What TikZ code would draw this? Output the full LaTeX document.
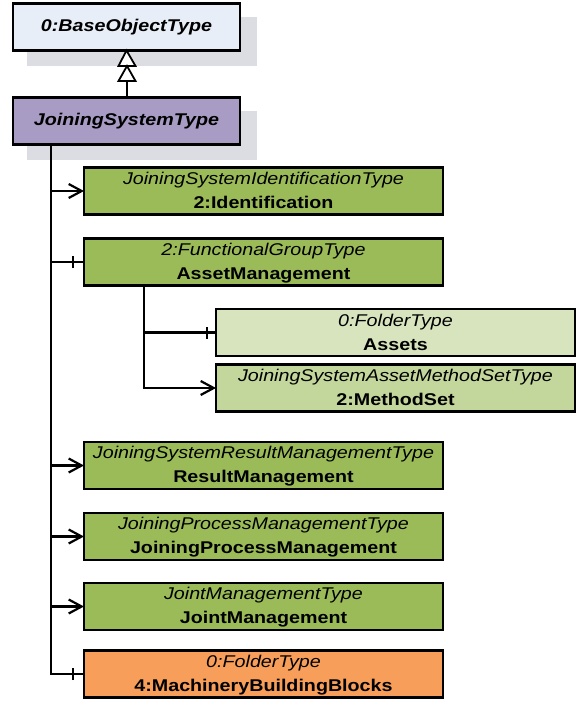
\documentclass[tikz,border=0pt]{standalone}
\usepackage{fontspec}
\setmainfont{Liberation Sans}[FakeStretch=1.158]
\usetikzlibrary{arrows.meta}
\definecolor{baseblue}{RGB}{232,238,247}
\definecolor{jstpurple}{RGB}{169,156,196}
\definecolor{olive}{RGB}{155,187,89}
\definecolor{lightolive}{RGB}{215,228,189}
\definecolor{midolive}{RGB}{195,214,155}
\definecolor{folderorange}{RGB}{246,158,90}
\definecolor{shadowgray}{RGB}{219,221,227}
\newcommand{\tl}[2]{\rule[-3pt]{0pt}{17pt}\itshape #1\\[0pt]\rule[-3pt]{0pt}{17pt}\upshape\bfseries #2}
\begin{document}
\begin{tikzpicture}[x=1pt,y=-1pt,
  every node/.style={font=\fontsize{17}{24}\selectfont, inner sep=0pt, outer sep=0pt},
  objbox/.style={draw=black, line width=2.2pt, minimum height=47pt, align=center},
  wide/.style={objbox, minimum width=359pt, text width=355pt},
  topbox/.style={objbox, minimum width=227pt, text width=223pt, font=\fontsize{17}{24}\selectfont\bfseries\itshape},
  conn/.style={line width=2.2pt},
  openarr/.style={conn, -{Straight Barb[length=13pt,width=14pt,line width=2.2pt]}},
  tickmark/.style={line width=2.2pt}
]
\useasboundingbox (0,0) rectangle (578,701);
% shadows
\fill[shadowgray] (27,17) rectangle (257,66);
\fill[shadowgray] (27,111) rectangle (257,160);
% top boxes
\node[topbox, fill=baseblue] (base) at (126.5,27) {0:BaseObjectType};
\node[topbox, fill=jstpurple] (jst) at (126.5,121) {JoiningSystemType};
% inheritance double triangle
\coordinate (t1) at (127,66);
\coordinate (t2) at (127,81);
\draw[line width=1.8pt, fill=white] (base.south) -- (118.5,66) -- (135.5,66) -- cycle;
\draw[line width=1.8pt, fill=white] (t1) -- (118.5,81) -- (135.5,81) -- cycle;
\draw[conn] (t2) -- (jst.north -| t2);
% child boxes
\node[wide, fill=olive] (id) at (263.5,191) {\tl{JoiningSystemIdentificationType}{2:Identification}};
\node[wide, fill=olive] (am) at (263.5,262) {\tl{2:FunctionalGroupType}{AssetManagement}};
\node[wide, fill=lightolive] (as) at (395.5,332.5) {\tl{0:FolderType}{Assets}};
\node[wide, fill=midolive] (ms) at (395.5,388) {\tl{JoiningSystemAssetMethodSetType}{2:MethodSet}};
\node[wide, fill=olive] (rm) at (263.5,465.5) {\tl{JoiningSystemResultManagementType}{ResultManagement}};
\node[wide, fill=olive] (jpm) at (263.5,536.5) {\tl{JoiningProcessManagementType}{JoiningProcessManagement}};
\node[wide, fill=olive] (jm) at (263.5,606.5) {\tl{JointManagementType}{JointManagement}};
\node[wide, fill=folderorange] (mbb) at (263.5,674) {\tl{0:FolderType}{4:MachineryBuildingBlocks}};
% trunk
\coordinate (trunk) at (51,145);
\coordinate (trunkend) at (51,674);
\draw[conn] (trunk) -- (trunkend) -- (mbb.west);
\draw[openarr] (trunk |- id.west) -- (id.west);
\draw[conn] (trunk |- am.west) -- (am.west);
\draw[tickmark] ([xshift=-11pt,yshift=-6pt]am.west) -- ([xshift=-11pt,yshift=6pt]am.west);
\draw[openarr] (trunk |- rm.west) -- (rm.west);
\draw[openarr] (trunk |- jpm.west) -- (jpm.west);
\draw[openarr] (trunk |- jm.west) -- (jm.west);
\draw[tickmark] ([xshift=-11pt,yshift=-6pt]mbb.west) -- ([xshift=-11pt,yshift=6pt]mbb.west);
% asset management sub-branch
\coordinate (sub) at (144,286);
\draw[conn] (sub |- am.south) -- (sub |- ms.west);
\draw[openarr] ([xshift=-1.1pt]sub |- ms.west) -- (ms.west);
\draw[conn] (sub |- as.west) -- (as.west);
\draw[tickmark] ([xshift=-9pt,yshift=-6pt]as.west) -- ([xshift=-9pt,yshift=6pt]as.west);
\end{tikzpicture}
\end{document}
